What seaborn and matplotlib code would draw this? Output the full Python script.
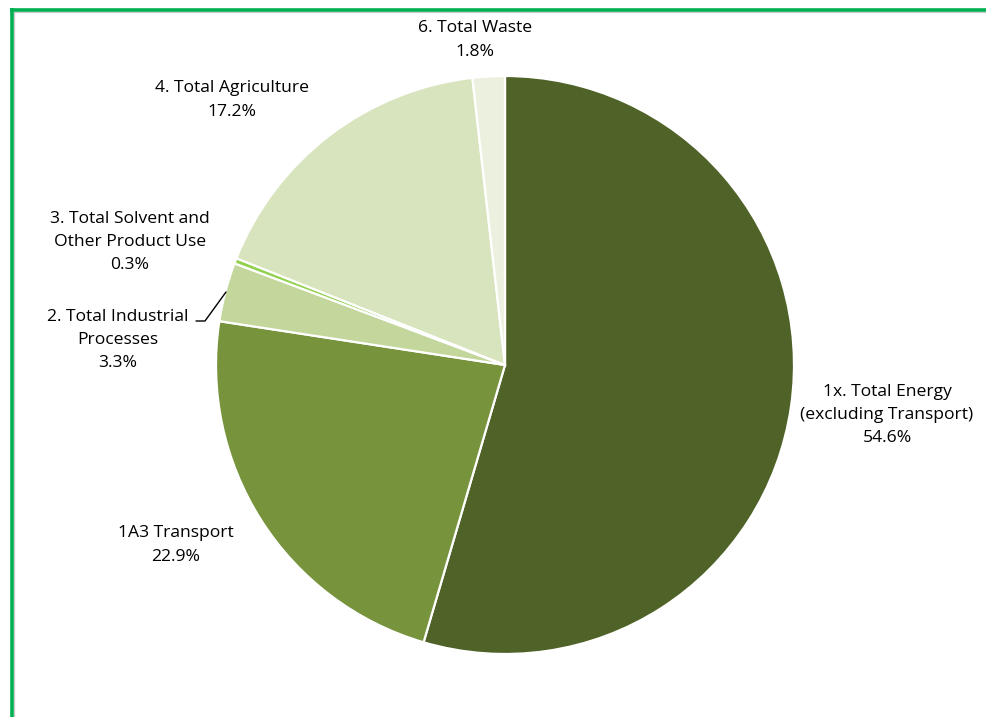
import matplotlib
matplotlib.use("Agg")
import matplotlib.pyplot as plt
from matplotlib.lines import Line2D
import seaborn as sns

sns.set_theme(style="white")
plt.rcParams["font.family"] = ["Open Sans", "DejaVu Sans"]

categories = [
    "1x. Total Energy\n(excluding Transport)",
    "1A3 Transport",
    "2. Total Industrial\nProcesses",
    "3. Total Solvent and\nOther Product Use",
    "4. Total Agriculture",
    "6. Total Waste",
]
shares = [54.6, 22.9, 3.3, 0.3, 17.2, 1.8]
colors = ["#4F6228", "#77933C", "#C3D69B", "#92D050", "#D7E4BD", "#EBF1DE"]

# label anchor points in pixel space (x from left, y from top)
label_px = [(887, 415), (176, 545), (118, 340), (130, 242), (232, 100), (475, 40)]

W, H = 987, 717
cx, cy = 505, 365
fig = plt.figure(figsize=(W / 100, H / 100), dpi=100)
ax = fig.add_axes([0, 0, 1, 1])

ax.pie(
    shares,
    colors=colors,
    startangle=90,
    counterclock=False,
    radius=289,
    wedgeprops=dict(edgecolor="white", linewidth=1.6),
)
ax.set_xlim(-cx, W - cx)
ax.set_ylim(-(H - cy), cy)
ax.set_aspect("equal")
ax.axis("off")

for name, val, (px, py) in zip(categories, shares, label_px):
    ax.text(px - cx, cy - py, f"{name}\n{val:.1f}%", ha="center", va="center",
            fontsize=12.6, color="black", linespacing=1.6)

# leader line for the industrial processes slice
ax.plot([226 - cx, 205 - cx, 196 - cx], [cy - 292, cy - 321, cy - 321],
        color="black", lw=1)

# frame on the top and left edges
fig.add_artist(Line2D([12 / W, 1], [1 - 12 / H, 1 - 12 / H], color="#CCCCCC", lw=1.0))
fig.add_artist(Line2D([14 / W, 14 / W], [0, 1 - 12 / H], color="#CCCCCC", lw=1.0))
fig.add_artist(Line2D([10 / W, 1], [1 - 9.5 / H, 1 - 9.5 / H], color="#00B050", lw=2.6,
                      solid_capstyle="butt"))
fig.add_artist(Line2D([11.5 / W, 11.5 / W], [0, 1 - 8 / H], color="#00B050", lw=2.6,
                      solid_capstyle="butt"))

fig.savefig("out.png", dpi=100)
